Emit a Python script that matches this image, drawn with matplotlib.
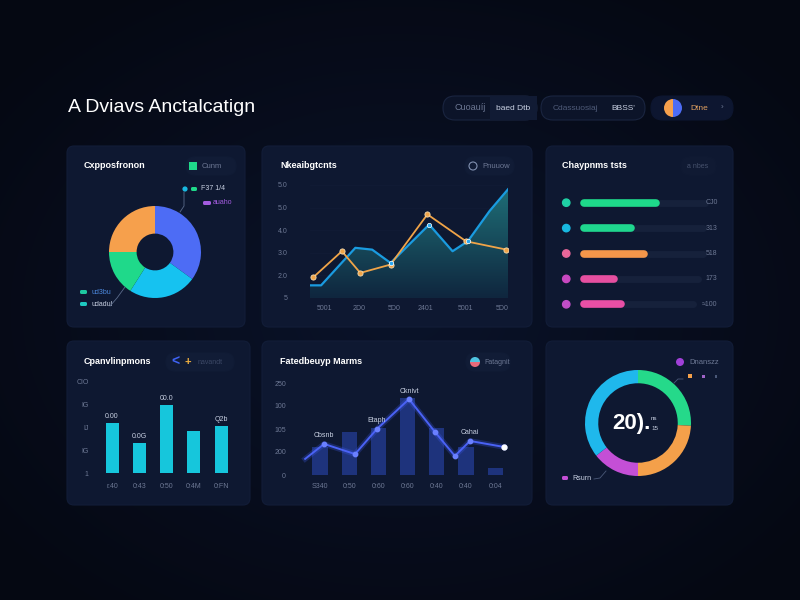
import numpy as np
import matplotlib
matplotlib.use("Agg")
from matplotlib import pyplot as plt
import matplotlib.patches as patches

plt.rcParams['font.family'] = ['Liberation Sans', 'DejaVu Sans']

# ---- data ----
title = "A Dviavs Anctalcatign"
pill_texts = [("Cuoauíj", "baed Dtb"), ("Cdassuosiaj", "BBSS'")]
user_text = "Dtne"

# panel 1: donut
donut1_shares = [35, 24, 16, 25]
donut1_colors = ["#4d6cf5", "#16c2f0", "#1fd98a", "#f6a04c"]

# panel 2: area + line
area_x = [0, 0.56, 2.29, 3.14, 4.07, 6.02, 7.2, 7.97, 9.07, 10]
area_y = [0.56, 0.56, 2.22, 2.14, 1.55, 3.25, 2.07, 2.51, 3.85, 4.81]
orange_x = [0.17, 1.61, 2.54, 4.07, 5.93, 7.88, 9.92]
orange_y = [0.92, 2.07, 1.11, 1.48, 3.70, 2.51, 2.14]
line_yticks = [0, 1, 2, 3, 4, 5]
line_ylabels = ["5", "2.0", "3.0", "4.0", "5.0", "5.0"]
line_xticks = [0.71, 2.47, 4.24, 5.81, 7.83, 9.7]
line_xlabels = ["5001", "2D0", "5D0", "2401", "5001", "5D0"]

# panel 3: progress bars
prog_values = [61, 41, 51, 27, 33]
prog_track = [100, 98, 98, 94, 90]
prog_labels = ["CJ0", "313", "518", "173", "≈100"]
prog_colors = ["#1ed98a", "#1fd68e", "#f4964a", "#e64fa0", "#e84fa5"]
prog_dots = ["#1fd1a5", "#18b8e0", "#e8679a", "#c848c0", "#c04fc8"]

# panel 4: bars
bar_values = [2.19, 1.32, 2.98, 1.84, 2.06]
bar_toplabels = ["0.00", "0.0G", "00.0", "", "Q2b"]
bar_xlabels = ["r.40", "0:43", "0:50", "0:4M", "0:FN"]
bar_ylabels = ["1", "IG", "IJ", "IG", "CIO"]

# panel 5: combo
combo_bars = [1.22, 1.87, 2.04, 3.35, 2.04, 1.22, 0.3]
combo_line_x = [-0.51, 0.14, 1.2, 1.95, 3.05, 3.94, 4.62, 5.14, 6.3]
combo_line_y = [0.70, 1.35, 0.91, 2.00, 3.30, 1.87, 0.83, 1.48, 1.22]
combo_xlabels = ["S340", "0:50", "0:60", "0:60", "0:40", "0:40", "0:04"]
combo_ylabels = ["0", "200", "105", "100", "250"]
combo_notes = [("Cbsnb", 0.14, 1.35), ("Etaph", 1.95, 2.0), ("Cknivt", 3.05, 3.3), ("Cahai", 5.14, 1.48)]

# panel 6: ring
ring_shares = [93, 87, 52, 128]
ring_colors = ["#25d98a", "#f4a04a", "#c44fd6", "#1fb8ec"]

panel_titles = ["Cxpposfronon", "Nkeaibgtcnts", "Chaypnms tsts",
                "Cpanvlinpmons", "Fatedbeuyp Marms", ""]

BG = "#081022"
PANEL = "#0e1831"
TXT = "#c9d1e3"
DIM = "#6d7894"

fig = plt.figure(figsize=(8, 6), dpi=100)
fig.patch.set_facecolor(BG)

# overlay axes in pixel coords for background, panels and texts
bg = fig.add_axes([0, 0, 1, 1])
bg.set_xlim(0, 800)
bg.set_ylim(600, 0)
bg.axis('off')

yy, xx = np.mgrid[0:600, 0:800]
r = np.sqrt(((xx - 400) / 520.0) ** 2 + ((yy - 310) / 380.0) ** 2)
r = np.clip(r, 0, 1)
c0 = np.array([0x0a, 0x13, 0x2a]) / 255.0
c1 = np.array([0x05, 0x08, 0x12]) / 255.0
img = c0[None, None, :] * (1 - r[..., None]) + c1[None, None, :] * r[..., None]
bg.imshow(img, extent=[0, 800, 600, 0], zorder=0, aspect='auto')


def panel(x0, y0, x1, y1):
    p = patches.FancyBboxPatch((x0, y0), x1 - x0, y1 - y0,
                               boxstyle="round,pad=0,rounding_size=7",
                               facecolor=PANEL, edgecolor="#121d38", lw=0.8, zorder=1)
    bg.add_patch(p)


def pill(x0, y0, x1, y1, fc="#0c1429", ec="#1a2540"):
    p = patches.FancyBboxPatch((x0, y0), x1 - x0, y1 - y0,
                               boxstyle="round,pad=0,rounding_size=%f" % ((y1 - y0) / 2),
                               facecolor=fc, edgecolor=ec, lw=0.8, zorder=2)
    bg.add_patch(p)


boxes = [(67, 146, 245, 327), (262, 146, 532, 327), (546, 146, 733, 327),
         (67, 341, 250, 505), (262, 341, 532, 505), (546, 341, 733, 505)]
for b in boxes:
    panel(*b)

# header
bg.text(68, 108, title, color="white", fontsize=14, va='center', ha='left', zorder=3)
pill(443, 96, 537, 120)
bg.add_patch(patches.Rectangle((490, 96), 47, 24, facecolor="#111b34", edgecolor='none', zorder=2))
bg.text(470, 108, pill_texts[0][0], color=DIM, fontsize=6.5, ha='center', va='center', zorder=3)
bg.text(513, 108, pill_texts[0][1], color=TXT, fontsize=6, ha='center', va='center', zorder=3)
pill(541, 96, 645, 120)
bg.text(575, 108, pill_texts[1][0], color="#4e5a78", fontsize=6, ha='center', va='center', zorder=3)
bg.text(623, 108, pill_texts[1][1], color=TXT, fontsize=6, ha='center', va='center', zorder=3)
pill(651, 96, 733, 120, fc="#0d1630", ec="#0d1630")
bg.add_patch(patches.Wedge((673, 108), 9, 90, 270, facecolor="#f6a04c", zorder=3))
bg.add_patch(patches.Wedge((673, 108), 9, -90, 90, facecolor="#4d6cf5", zorder=3))
bg.text(690, 108, user_text, color="#e0a060", fontsize=6, ha='left', va='center', zorder=3)
bg.text(722, 108, "›", color=DIM, fontsize=6, ha='center', va='center', zorder=3)

# panel titles
title_pos = [(84, 166), (280, 166), (562, 166), (84, 362), (280, 362)]
for (tx, ty), t in zip(title_pos, panel_titles):
    bg.text(tx, ty, t, color="white", fontsize=6.5, fontweight='bold', ha='left', va='center', zorder=3)

# badges
pill(186, 157, 236, 175, fc="#111c36", ec="#111c36")
bg.add_patch(patches.Rectangle((189, 162), 8, 8, facecolor="#1fd98a", zorder=3))
bg.text(202, 166, "Cunm", color=DIM, fontsize=5.5, ha='left', va='center', zorder=3)
pill(465, 157, 514, 175, fc="#111c36", ec="#111c36")
bg.add_patch(patches.Circle((473, 166), 4, facecolor='none', edgecolor="#8090b0", lw=0.8, zorder=3))
bg.text(482, 166, "Pnuuow", color=DIM, fontsize=5.5, ha='left', va='center', zorder=3)
pill(681, 157, 716, 175, fc="#101a33", ec="#101a33")
bg.text(698, 166, "a nbes", color="#46516c", fontsize=5, ha='center', va='center', zorder=3)
pill(166, 353, 234, 371, fc="#111c36", ec="#111c36")
bg.text(175, 362, "<", color="#3f63f5", fontsize=10, fontweight='bold', ha='center', va='center', zorder=3)
bg.text(188, 362, "+", color="#f0b040", fontsize=8, fontweight='bold', ha='center', va='center', zorder=3)
bg.text(198, 362, "navandt", color="#3c4866", fontsize=5, ha='left', va='center', zorder=3)
pill(466, 353, 510, 371, fc="#111c36", ec="#111c36")
bg.add_patch(patches.Wedge((475, 362), 5, 0, 180, facecolor="#e86a7a", zorder=3))
bg.add_patch(patches.Wedge((475, 362), 5, 180, 360, facecolor="#4fc3e0", zorder=3))
bg.text(484, 362, "Fatagnit", color=DIM, fontsize=5, ha='left', va='center', zorder=3)

# ---- panel 1: donut ----
ax1 = fig.add_axes([109 / 800, 1 - 298 / 600, 92 / 800, 92 / 600])
ax1.pie(donut1_shares, colors=donut1_colors, startangle=90, counterclock=False,
        radius=1, wedgeprops=dict(width=0.6, edgecolor='none'))
ax1.set_xlim(-1, 1)
ax1.set_ylim(-1, 1)
ax1.axis('off')
# legend bits
bg.add_patch(patches.Circle((185, 189), 2.6, facecolor="#18b8e0", zorder=3))
bg.add_patch(patches.FancyBboxPatch((191, 187), 6, 4, boxstyle="round,pad=0,rounding_size=1.5",
                                    facecolor="#1fd98a", edgecolor='none', zorder=3))
bg.text(201, 189, "F37 1/4", color=TXT, fontsize=5, ha='left', va='center', zorder=3)
bg.add_patch(patches.FancyBboxPatch((203, 201), 8, 4, boxstyle="round,pad=0,rounding_size=1.5",
                                    facecolor="#a45ce0", edgecolor='none', zorder=3))
bg.text(213, 203, "auaho", color="#a45ce0", fontsize=5, ha='left', va='center', zorder=3)
bg.plot([184, 184, 180], [192, 206, 212], color="#5a6a8a", lw=0.6, zorder=3)
bg.add_patch(patches.FancyBboxPatch((80, 290), 7, 4, boxstyle="round,pad=0,rounding_size=1.5",
                                    facecolor="#1ec8a0", edgecolor='none', zorder=3))
bg.text(91, 292, "ud3bu", color="#4d8ae0", fontsize=5, ha='left', va='center', zorder=3)
bg.add_patch(patches.FancyBboxPatch((80, 302), 7, 4, boxstyle="round,pad=0,rounding_size=1.5",
                                    facecolor="#1ec8c0", edgecolor='none', zorder=3))
bg.text(91, 305, "udadul", color=TXT, fontsize=5, ha='left', va='center', zorder=3)
bg.plot([110, 117, 125], [306, 298, 287], color="#5a6a8a", lw=0.6, zorder=3)

# ---- panel 2: area + line ----
ax2 = fig.add_axes([310 / 800, 1 - 298 / 600, 198 / 800, 113 / 600])
ax2.set_xlim(0, 10)
ax2.set_ylim(0, 5)
ax2.patch.set_alpha(0)
for s in ax2.spines.values():
    s.set_visible(False)
ax2.set_yticks(line_yticks)
ax2.set_yticklabels(line_ylabels)
ax2.set_xticks(line_xticks)
ax2.set_xticklabels(line_xlabels)
ax2.tick_params(length=0, colors=DIM, labelsize=5)
ax2.tick_params(axis='y', pad=16)
ax2.tick_params(axis='x', pad=5)
ax2.grid(axis='y', color="#121c36", lw=0.5)
ax2.set_axisbelow(True)
grad = np.linspace(0, 1, 100)[:, None]
ctop = np.array([0x1f, 0x70, 0x78]) / 255.0
cbot = np.array([0x0f, 0x26, 0x3e]) / 255.0
gimg = cbot[None, None, :] * (1 - grad[..., None]) + ctop[None, None, :] * grad[..., None]
gimg = np.repeat(gimg, 2, axis=1)
poly = ax2.fill_between(area_x, area_y, 0, facecolor='none', edgecolor='none')
im = ax2.imshow(gimg, extent=[0, 10, 0, 5], origin='lower', aspect='auto', zorder=1)
im.set_clip_path(poly.get_paths()[0], transform=ax2.transData)
ax2.plot(area_x, area_y, color="#1a9be0", lw=1.6, zorder=3)
ax2.plot(orange_x, orange_y, color="#f0a448", lw=1.3, zorder=4)
ax2.scatter(orange_x, orange_y, s=14, color="#f0a448", edgecolor="#f7dcb0", lw=0.6, zorder=5)
ax2.scatter([4.07, 6.02, 7.97], [1.55, 3.25, 2.51], s=10, color="#2aa8f0", edgecolor="white", lw=0.5, zorder=6)

# ---- panel 3: progress bars ----
ax3 = fig.add_axes([558 / 800, 1 - 317 / 600, 162 / 800, 127 / 600])
ax3.set_xlim(-17.6, 112)
ax3.set_ylim(4.5, -0.5)
ax3.axis('off')
rows = np.arange(len(prog_values))
tr = ax3.hlines(rows, 3, prog_track, color="#16213b", lw=5)
tr.set_capstyle('round')
br = ax3.hlines(rows, 3, prog_values, colors=prog_colors, lw=5.5)
br.set_capstyle('round')
ax3.scatter([-11] * len(rows), rows, s=28, c=prog_dots, zorder=3)
for i, lab in enumerate(prog_labels):
    ax3.text(110, i, lab, color=DIM, fontsize=5, ha='right', va='center')

# ---- panel 4: bars ----
ax4 = fig.add_axes([95.7 / 800, 1 - 473 / 600, 141.7 / 800, 91 / 600])
ax4.patch.set_alpha(0)
for s in ax4.spines.values():
    s.set_visible(False)
bx = np.arange(len(bar_values))
ax4.bar(bx, bar_values, width=0.48, color="#16c6dc")
ax4.set_xlim(-0.6, 4.6)
ax4.set_ylim(0, 4)
ax4.set_yticks(range(5))
ax4.set_yticklabels(bar_ylabels)
ax4.set_xticks(bx)
ax4.set_xticklabels(bar_xlabels)
ax4.tick_params(length=0, colors=DIM, labelsize=5)
ax4.tick_params(axis='y', pad=5)
ax4.tick_params(axis='x', pad=7)
for x, v, t in zip(bx, bar_values, bar_toplabels):
    ax4.text(x, v + 0.3, t, color=TXT, fontsize=5, ha='center', va='center')

# ---- panel 5: combo ----
ax5 = fig.add_axes([300 / 800, 1 - 475 / 600, 210 / 800, 92 / 600])
ax5.patch.set_alpha(0)
for s in ax5.spines.values():
    s.set_visible(False)
cx = np.arange(len(combo_bars))
ax5.bar(cx, combo_bars, width=0.52, color="#22398a", alpha=0.85)
ax5.plot(combo_line_x, combo_line_y, color="#3f5cf5", lw=4, alpha=0.25, zorder=3)
ax5.plot(combo_line_x, combo_line_y, color="#4a62f5", lw=1.4, zorder=4)
ax5.scatter(combo_line_x[1:], combo_line_y[1:], s=10, color="#6a80ff", zorder=5)
ax5.scatter([combo_line_x[-1]], [combo_line_y[-1]], s=12, color="white", zorder=6)
ax5.set_xlim(-0.686, 6.51)
ax5.set_ylim(0, 4)
ax5.set_yticks(range(5))
ax5.set_yticklabels(combo_ylabels)
ax5.set_xticks(cx)
ax5.set_xticklabels(combo_xlabels)
ax5.tick_params(length=0, colors=DIM, labelsize=5)
ax5.tick_params(axis='y', pad=10)
ax5.tick_params(axis='x', pad=6)
for t, x, y in combo_notes:
    ax5.text(x, y + 0.35, t, color=TXT, fontsize=5, ha='center', va='center', zorder=6)

# ---- panel 6: ring ----
ax6 = fig.add_axes([585 / 800, 1 - 476 / 600, 106 / 800, 106 / 600])
ax6.pie(ring_shares, colors=ring_colors, startangle=90, counterclock=False,
        radius=1, wedgeprops=dict(width=0.25, edgecolor='none'))
ax6.set_xlim(-1, 1)
ax6.set_ylim(-1, 1)
ax6.axis('off')
bg.text(631, 423, "20).", color="white", fontsize=16, fontweight='bold', ha='center', va='center', zorder=3)
bg.text(651, 418, "ns", color=TXT, fontsize=4.5, ha='left', va='center', zorder=3)
bg.text(651, 429, "15", color=TXT, fontsize=4.5, ha='left', va='center', zorder=3)
bg.add_patch(patches.Circle((680, 362), 4, facecolor="#a040d8", zorder=3))
bg.text(689, 362, "Dnanszz", color=DIM, fontsize=5.5, ha='left', va='center', zorder=3)
bg.add_patch(patches.Rectangle((688, 374), 4, 4, facecolor="#f4a04a", zorder=3))
bg.add_patch(patches.Rectangle((702, 375), 3, 3, facecolor="#a064c8", zorder=3))
bg.add_patch(patches.Rectangle((715, 375), 2, 3, facecolor="#4a5878", zorder=3))
bg.plot([683, 678, 674], [379, 379, 383], color="#4a5878", lw=0.6, zorder=3)
bg.add_patch(patches.FancyBboxPatch((562, 476), 6, 4, boxstyle="round,pad=0,rounding_size=1.5",
                                    facecolor="#c44fd6", edgecolor='none', zorder=3))
bg.text(572, 478, "Rsurn", color=TXT, fontsize=5, ha='left', va='center', zorder=3)
bg.plot([594, 600, 606], [479, 478, 471], color="#4a5878", lw=0.6, zorder=3)

fig.savefig("out.png", dpi=100, facecolor=BG)
